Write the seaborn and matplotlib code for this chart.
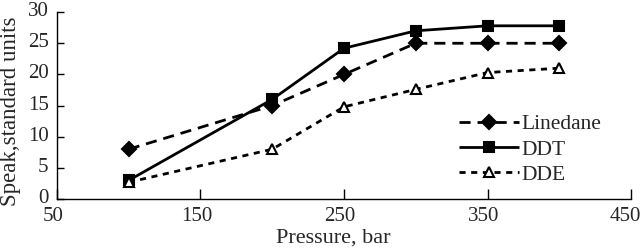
import numpy as np
import pandas as pd
import matplotlib
matplotlib.use("Agg")
import matplotlib.pyplot as plt
import matplotlib.transforms as mtrans
import seaborn as sns

sns.set_style("ticks")
plt.rcParams['font.family'] = ['Liberation Serif', 'DejaVu Serif']

# data
pressure = [100, 200, 250, 300, 350, 400]
linedane = [8, 15, 20, 25, 25, 25]
ddt = [3, 16, 24.2, 27, 27.8, 27.8]
dde = [2.7, 8, 14.8, 17.6, 20.3, 21]

series = [
    ("Linedane", linedane, "D", (4, 2.5), "black", 7),
    ("DDT", ddt, "s", (1, 0), "black", 7.5),
    ("DDE", dde, "^", (2.2, 2), "white", 7.5),
]

fig = plt.figure(figsize=(6.4, 2.52), dpi=100)
ax = fig.add_axes([0.089, 0.21, 0.897, 0.742])

for name, vals, mk, dash, face, ms in series:
    sns.lineplot(x=pressure, y=vals, ax=ax, color="black", lw=2,
                 marker=mk, markersize=ms, markerfacecolor=face,
                 markeredgecolor="black", markeredgewidth=1.5,
                 dashes=dash, label=name)

ax.set_xlim(50, 450)
ax.set_ylim(0, 30)
ax.set_xticks([50, 150, 250, 350, 450])
ax.set_yticks([0, 5, 10, 15, 20, 25, 30])
ax.tick_params(axis="both", direction="in", labelsize=15, width=1, color="black")
ax.tick_params(axis="x", length=7, pad=6)
ax.tick_params(axis="y", length=5, pad=6)
for s in ("top", "right"):
    ax.spines[s].set_visible(False)
for s in ("left", "bottom"):
    ax.spines[s].set_color("black")
    ax.spines[s].set_linewidth(1)

# x tick labels sit slightly left of their ticks in the reference
shift = mtrans.ScaledTranslation(-4 / 100, 0, fig.dpi_scale_trans)
for lab in ax.get_xticklabels():
    lab.set_transform(lab.get_transform() + shift)
last = ax.get_xticklabels()[-1]
last.set_horizontalalignment("right")
last.set_transform(last.get_transform() + mtrans.ScaledTranslation(14 / 100, 0, fig.dpi_scale_trans))
# y tick labels a touch above their ticks
up = mtrans.ScaledTranslation(0, 3 / 100, fig.dpi_scale_trans)
for lab in ax.get_yticklabels():
    lab.set_transform(lab.get_transform() + up)

ax.set_xlabel("Pressure, bar", fontsize=16)
ax.xaxis.set_label_coords(0.482, -0.16)
ax.xaxis.label.set_verticalalignment("top")
ax.set_ylabel("Speak,standard units", fontsize=16.5)
ax.yaxis.set_label_coords(-0.062, 0.47)

ax.legend(loc="upper left", bbox_to_anchor=(0.70, 0.455), frameon=False,
          fontsize=15.5, handlelength=2.8, handletextpad=0.1,
          labelspacing=0.25, borderaxespad=0, borderpad=0)

fig.savefig("out.png", dpi=100)
